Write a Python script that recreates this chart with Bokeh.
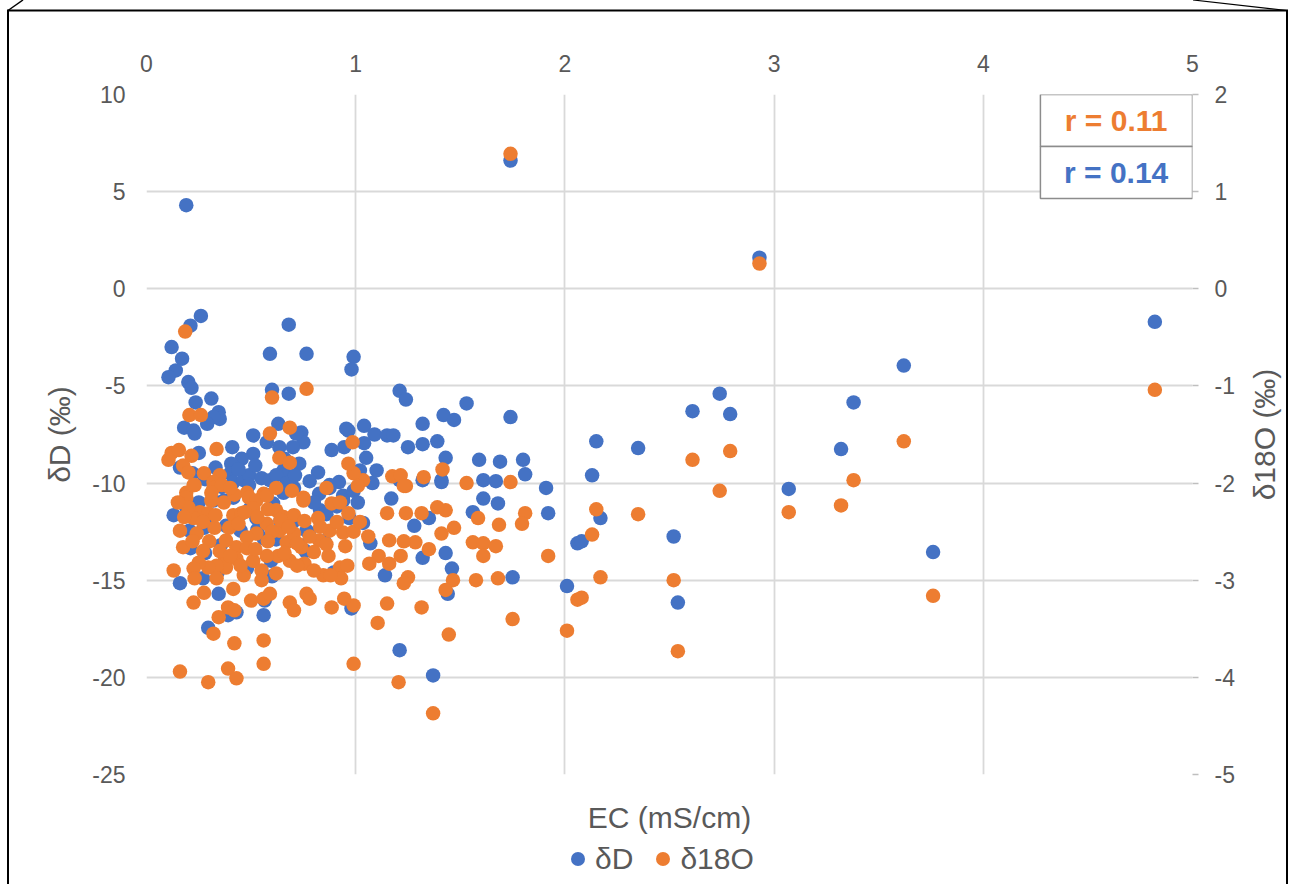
from bokeh.plotting import figure
from bokeh.layouts import column, row
from bokeh.models import (Range1d, LinearAxis, FixedTicker, Legend, LegendItem,
                          BoxAnnotation, Label)
from bokeh.embed import file_html
from bokeh.resources import INLINE

# ---- axes -----------------------------------------------------------------
ec_ticks = [0, 1, 2, 3, 4, 5]
dD_ticks = [10, 5, 0, -5, -10, -15, -20, -25]
d18O_ticks = [2, 1, 0, -1, -2, -3, -4, -5]

# correlation coefficients shown in the corner boxes
r_d18O = 0.11
r_dD = 0.14

# ---- deuterium (permil) against electrical conductivity (mS/cm) -----------
ec_dD = [
    0.19, 1.74, 2.93, 4.82, 3.62, 3.38, 3.32, 3.07, 3.76, 2.74, 2.61, 2.79, 2.15,
    2.35, 2.13, 2.17, 2.06, 2.08, 2.52, 2.01, 2.54,
    0.99, 0.98, 1.21, 1.24, 1.53, 1.74, 1.42, 1.47, 1.32, 1.04, 1.09, 1.15, 1.18,
    1.39, 1.32, 1.25, 1.04, 1.05, 1.43, 1.59, 1.69, 1.80, 1.81, 1.10, 1.02, 1.61,
    1.67, 1.91, 1.41, 1.32, 1.08, 1.21, 1.92, 1.68, 1.61, 1.56, 1.43, 1.46, 1.32,
    1.14, 1.75, 1.44, 1.21, 1.37, 1.07, 1.17, 1.28, 1.35, 1.41,
    0.26, 0.21, 0.68, 0.12, 0.17, 0.14, 0.105, 0.20, 0.215, 0.59, 0.765, 0.60,
    0.68, 0.235, 0.31, 0.345, 0.35, 0.32, 0.18, 0.225, 0.23, 0.29, 0.63, 0.74,
    0.75, 0.51, 0.575, 0.635, 0.70, 0.41, 0.51, 0.455, 0.405, 0.40, 0.73, 0.655,
    0.82, 0.885, 0.965, 0.25, 0.16, 0.415, 0.465, 0.49, 0.55, 0.59, 0.655, 0.825,
    0.875, 0.92, 0.94,
    0.13, 0.16, 0.28, 0.345, 0.43, 0.56, 0.295, 0.39, 0.775, 0.875, 0.705, 0.49,
    0.565, 0.98, 0.32, 0.37, 0.415, 0.525, 0.275, 0.205, 0.56, 0.19, 0.895, 0.715,
    0.66, 0.955, 0.945, 0.605, 0.99, 0.94, 0.765, 0.45, 0.64, 0.735, 0.355, 0.83,
    0.595, 0.495, 0.21, 1.035,
    0.22, 0.28, 0.33, 0.36, 0.44, 0.52, 0.57, 0.62, 0.67, 0.71, 0.78, 0.80, 0.86,
    0.91, 0.97, 1.01, 0.25, 0.30, 0.38, 0.45, 0.53, 0.62, 0.70, 0.76, 0.85, 0.40,
    0.48, 0.60, 0.34, 0.27,
]
dD = [
    4.3, 6.6, 1.6, -1.7, -3.95, -5.85, -8.25, -10.3, -13.55, -5.4, -6.3, -6.45, -7.85,
    -8.2, -9.6, -11.8, -13.1, -13.0, -12.75, -15.3, -16.15,
    -3.5, -4.15, -5.25, -5.7, -5.9, -6.6, -6.5, -6.75, -6.95, -7.05, -7.5, -7.55, -7.55,
    -7.85, -8.0, -8.15, -7.95, -8.7, -8.7, -8.8, -8.9, -8.8, -9.55, -9.35, -9.35, -9.85,
    -9.9, -10.25, -9.85, -9.85, -10.0, -9.85, -11.55, -11.05, -10.8, -11.5, -13.6, -14.4, -13.85,
    -14.75, -14.85, -15.7, -18.6, -19.9, -13.1, -10.8, -12.2, -11.8, -9.95,
    -1.4, -1.9, -1.85, -3.0, -3.6, -4.2, -4.55, -4.8, -5.1, -3.35, -3.35, -5.2,
    -5.4, -5.85, -5.65, -6.35, -6.7, -6.6, -7.15, -7.3, -7.45, -6.95, -6.95, -7.4,
    -7.9, -7.55, -7.9, -8.15, -8.15, -8.15, -8.5, -8.75, -9.0, -9.5, -9.0, -9.35,
    -9.45, -8.3, -7.3, -8.45, -9.2, -9.95, -9.85, -9.6, -9.75, -9.85, -10.5, -10.55,
    -10.25, -9.95, -10.65,
    -11.65, -15.15, -13.6, -15.7, -16.65, -16.8, -17.45, -16.8, -12.55, -10.1, -10.25, -10.1,
    -16.05, -16.45, -10.9, -10.9, -10.75, -11.8, -12.3, -12.45, -12.85, -11.25, -14.6, -7.45,
    -8.75, -7.2, -8.15, -11.05, -10.4, -10.9, -12.45, -12.45, -11.95, -13.2, -13.2, -11.4,
    -14.0, -11.3, -13.35, -12.05,
    -9.5, -9.8, -9.2, -10.2, -9.3, -9.1, -10.6, -9.6, -10.0, -9.6, -9.9, -11.0, -11.6,
    -11.2, -11.8, -11.0, -11.0, -12.0, -12.2, -11.6, -12.4, -12.9, -12.0, -13.5, -13.0, -13.8,
    -14.4, -14.8, -14.6, -14.9,
]

# ---- oxygen-18 (permil) against electrical conductivity (mS/cm) -----------
ec_d18O = [
    1.74, 2.93, 4.82, 3.62, 3.38, 3.32, 3.07, 3.76, 2.61, 2.79, 2.74, 2.15, 2.35,
    2.13, 2.17, 2.06, 2.08, 2.52, 2.01, 2.54,
    0.985, 1.415, 1.325, 1.175, 1.215, 1.24, 1.53, 1.74, 1.035, 0.99, 1.01, 1.81,
    1.795, 1.685, 1.585, 1.47, 1.41, 1.43, 1.39, 1.315, 1.24, 1.15, 1.23, 1.56,
    1.61, 1.67, 1.61, 1.35, 1.285, 1.23, 1.16, 1.215, 1.16, 1.11, 1.065, 1.92,
    1.25, 1.23, 1.465, 1.43, 1.575, 1.68, 1.15, 1.315, 1.105, 1.75, 1.445, 0.99,
    0.99, 1.205, 1.37,
    0.185, 0.60, 0.765, 0.205, 0.26, 0.685, 0.59, 0.335, 0.635, 0.685, 0.965, 0.12,
    0.155, 0.105, 0.215, 0.175, 0.20, 0.275, 0.35, 0.32, 0.19, 0.23, 0.48, 0.56,
    0.695, 0.75,
    0.225, 0.19, 0.32, 0.36, 0.31, 0.255, 0.295, 0.225, 0.16, 0.24,
    0.325, 0.175, 0.415, 0.455, 0.395, 0.49, 0.525, 0.575, 0.51, 0.62,
    0.75, 0.655, 0.705, 0.755, 0.82, 0.885, 0.925, 0.965, 0.875, 0.94,
    0.825, 0.87, 0.925, 0.93, 0.845, 0.755, 0.74, 0.80, 0.685, 0.63,
    0.575, 0.67, 0.705, 0.635, 0.575, 0.525, 0.48, 0.43, 0.38, 0.375,
    0.43, 0.48, 0.51, 0.55, 0.62, 0.55, 0.465, 0.38, 0.335, 0.295,
    0.25, 0.225, 0.23, 0.335, 0.13, 0.275, 0.225, 0.415, 0.50, 0.56,
    0.59, 0.39, 0.42, 0.345, 0.32, 0.42, 0.56, 0.765, 0.78, 0.685,
    0.705, 0.885, 0.945, 0.56, 0.39, 0.16, 0.43, 0.295,
    0.20, 0.27, 0.33, 0.37, 0.42, 0.44, 0.47, 0.53, 0.58, 0.60,
    0.64, 0.68, 0.72, 0.78, 0.83, 0.86, 0.91, 0.95, 0.99, 1.02,
    1.06, 0.30, 0.35, 0.40, 0.45, 0.52, 0.58, 0.66, 0.72, 0.80,
    0.88, 0.96, 0.27, 0.22, 0.18, 0.15, 0.31, 0.40, 0.62, 0.86,
]
d18O = [
    1.39, 0.26, -1.04, -1.57, -1.97, -2.23, -2.30, -3.16, -1.76, -1.67, -2.08, -2.27, -2.32,
    -2.53, -2.97, -3.20, -3.18, -3.00, -3.52, -3.73,
    -1.58, -1.86, -1.94, -1.93, -1.92, -2.03, -2.00, -1.99, -1.97, -1.90, -2.03, -2.31,
    -2.42, -2.43, -2.36, -2.46, -2.52, -2.28, -2.25, -2.31, -2.31, -2.31, -2.03, -2.61,
    -2.62, -2.65, -2.75, -2.68, -2.61, -2.60, -2.59, -2.75, -2.83, -2.75, -2.83, -2.75,
    -2.97, -3.03, -3.00, -3.10, -3.00, -2.98, -3.24, -3.28, -3.44, -3.40, -3.56, -3.26,
    -3.86, -4.05, -4.37,
    -0.44, -1.12, -1.03, -1.30, -1.30, -1.43, -1.49, -1.65, -1.74, -1.79, -1.80, -1.69,
    -1.66, -1.76, -1.72, -1.82, -1.89, -1.90, -1.92, -1.99, -2.10, -2.02, -2.10, -2.11,
    -2.08, -2.15,
    -2.02, -2.15, -2.05, -2.02, -2.18, -2.30, -2.31, -2.36, -2.49, -2.52,
    -2.46, -2.66, -2.33, -2.31, -2.46, -2.15, -2.18, -2.13, -2.26, -2.28,
    -2.18, -2.35, -2.33, -2.39, -2.36, -2.21, -2.20, -2.31, -2.49, -2.51,
    -2.59, -2.75, -2.87, -2.98, -2.95, -2.83, -2.66, -2.71, -2.80, -2.75,
    -2.75, -2.61, -2.52, -2.49, -2.42, -2.52, -2.56, -2.66, -2.59, -2.77,
    -2.78, -2.67, -2.80, -2.90, -2.93, -3.00, -2.95, -2.87, -2.85, -2.87,
    -2.82, -2.88, -2.98, -2.98, -2.90, -3.13, -3.23, -3.09, -3.21, -3.19,
    -3.14, -3.28, -3.31, -3.38, -3.55, -3.65, -3.62, -3.14, -3.19, -3.23,
    -3.31, -3.28, -3.19, -3.86, -3.91, -3.94, -4.01, -4.05,
    -2.25, -2.40, -2.33, -2.20, -2.12, -2.42, -2.30, -2.35, -2.27, -2.50,
    -2.38, -2.45, -2.62, -2.55, -2.45, -2.63, -2.40, -2.65, -2.50, -2.40,
    -2.55, -2.60, -2.70, -2.75, -2.85, -2.68, -2.60, -2.72, -2.85, -2.90,
    -2.95, -2.85, -2.70, -2.60, -2.35, -2.20, -2.10, -2.05, -2.05, -2.05,
]

assert len(ec_dD) == len(dD)
assert len(ec_d18O) == len(d18O)

BLUE = "#4472C4"
ORANGE = "#ED7D31"
TXT = "#595959"
GRID = "#D9D9D9"
FONT = "Liberation Sans"
TICK_SIZE = "23px"
TITLE_SIZE = "30px"

# outer drawing frame with its corner edges, painted behind the canvases
frame_svg = (
    "<svg xmlns='http://www.w3.org/2000/svg' width='1291' height='884'>"
    "<rect x='8' y='10.5' width='1279' height='900' fill='none' stroke='black' stroke-width='2'/>"
    "<line x1='8' y1='10.5' x2='23' y2='0' stroke='black' stroke-width='1.5'/>"
    "<line x1='1193' y1='0' x2='1287' y2='10.5' stroke='black' stroke-width='1.2'/>"
    "</svg>"
)

# ---- main scatter panel ---------------------------------------------------
p = figure(width=1240, height=840,
           x_range=Range1d(ec_ticks[0], ec_ticks[-1]),
           y_range=Range1d(dD_ticks[-1], dD_ticks[0]),
           x_axis_location="above", y_axis_location="left",
           output_backend="svg", toolbar_location=None, title=None,
           min_border_left=146, min_border_right=48,
           min_border_top=94, min_border_bottom=66)
p.extra_y_ranges = {"o18": Range1d(d18O_ticks[-1], d18O_ticks[0])}
p.outline_line_color = None
p.background_fill_color = "white"
p.border_fill_alpha = 0


def style_axis(ax, ticks):
    ax.ticker = FixedTicker(ticks=ticks)
    ax.major_label_overrides = {t: str(t) for t in ticks}
    ax.axis_line_color = None
    ax.major_tick_line_color = None
    ax.minor_tick_line_color = None
    ax.major_label_text_font = FONT
    ax.major_label_text_font_size = TICK_SIZE
    ax.major_label_text_color = TXT
    ax.axis_label_text_font = FONT
    ax.axis_label_text_font_size = TITLE_SIZE
    ax.axis_label_text_color = TXT
    ax.axis_label_text_font_style = "normal"


top_axis = p.xaxis[0]
style_axis(top_axis, ec_ticks)
top_axis.major_label_standoff = 17

left_axis = p.yaxis[0]
style_axis(left_axis, dD_ticks)
left_axis.major_label_standoff = 15
left_axis.axis_label = "δD (‰)"
left_axis.axis_label_standoff = 13

right_axis = LinearAxis(y_range_name="o18")
style_axis(right_axis, d18O_ticks)
right_axis.major_tick_line_color = "#BFBFBF"
right_axis.major_tick_line_width = 1.5
right_axis.major_tick_in = 0
right_axis.major_tick_out = 6
right_axis.major_label_standoff = 16
p.add_layout(right_axis, "right")

# bottom axis only carries the title
bottom_axis = LinearAxis(axis_label="EC (mS/cm)")
style_axis(bottom_axis, [])
bottom_axis.major_tick_out = 0
bottom_axis.major_label_standoff = 0
bottom_axis.axis_label_standoff = 26
p.add_layout(bottom_axis, "below")

for g in (p.xgrid[0], p.ygrid[0]):
    g.grid_line_color = GRID
    g.grid_line_width = 1.8

r_blue = p.scatter(ec_dD, dD, size=14.5, fill_color=BLUE, line_color=None)
r_orange = p.scatter(ec_d18O, d18O, y_range_name="o18", size=14.5,
                     fill_color=ORANGE, line_color=None)

# correlation boxes in the upper right corner
box_style = dict(fill_color="white", fill_alpha=1.0, line_color="#8C8C8C",
                 line_width=1.5, line_alpha=1.0)
p.add_layout(BoxAnnotation(left=4.273, right=5, top=10, bottom=7.32, **box_style))
p.add_layout(BoxAnnotation(left=4.273, right=5, top=7.32, bottom=4.65, **box_style))
label_style = dict(text_align="center", text_baseline="middle", text_font=FONT,
                   text_font_size=TITLE_SIZE, text_font_style="bold")
p.add_layout(Label(x=4.635, y=8.66, text=f"r = {r_d18O:.2f}", text_color=ORANGE, **label_style))
p.add_layout(Label(x=4.635, y=5.99, text=f"r = {r_dD:.2f}", text_color=BLUE, **label_style))

# ---- secondary axis title, reading upwards --------------------------------
side = figure(width=51, height=840, title=None, toolbar_location=None,
              x_axis_location=None, y_axis_location="left",
              x_range=Range1d(0, 1), y_range=Range1d(d18O_ticks[-1], d18O_ticks[0]),
              min_border_left=40, min_border_right=0,
              min_border_top=94, min_border_bottom=66, output_backend="svg")
side.outline_line_color = None
side.background_fill_alpha = 0
side.border_fill_alpha = 0
side.grid.visible = False
side_axis = side.yaxis[0]
style_axis(side_axis, [])
side_axis.major_tick_out = 0
side_axis.major_label_standoff = 0
side_axis.axis_label = "δ18O (‰)"
side_axis.axis_label_standoff = 0

# ---- series key strip under the chart -------------------------------------
key = figure(width=1291, height=44, title=None, toolbar_location=None,
             x_axis_location=None, y_axis_location=None,
             min_border_left=146, min_border_right=99,
             min_border_top=0, min_border_bottom=0,
             x_range=Range1d(-3, -2), y_range=Range1d(0, 1), output_backend="svg")
key.outline_line_color = None
key.background_fill_alpha = 0
key.border_fill_alpha = 0
key.grid.visible = False
# swatches reuse the first sample of each series, which lies outside this strip's range
key_blue = key.scatter(x=ec_dD[:1], y=dD[:1], fill_color=BLUE, line_color=None)
key_orange = key.scatter(x=ec_d18O[:1], y=d18O[:1], fill_color=ORANGE, line_color=None)
legend = Legend(
    items=[LegendItem(label="δD", renderers=[key_blue]),
           LegendItem(label="δ18O", renderers=[key_orange])],
    orientation="horizontal", location=(414, 8),
    glyph_width=35, glyph_height=35, label_standoff=-2, spacing=12,
    label_text_font=FONT, label_text_font_size=TITLE_SIZE, label_text_color=TXT,
    border_line_color=None, background_fill_alpha=0, margin=0, padding=0,
)
key.add_layout(legend, "center")

page = column(row(p, side, spacing=0), key, spacing=0, styles={
    "background-color": "white",
    "background-image": f'url("data:image/svg+xml;utf8,{frame_svg}")',
    "background-repeat": "no-repeat",
})

open("out.html", "w").write(file_html(page, INLINE))
